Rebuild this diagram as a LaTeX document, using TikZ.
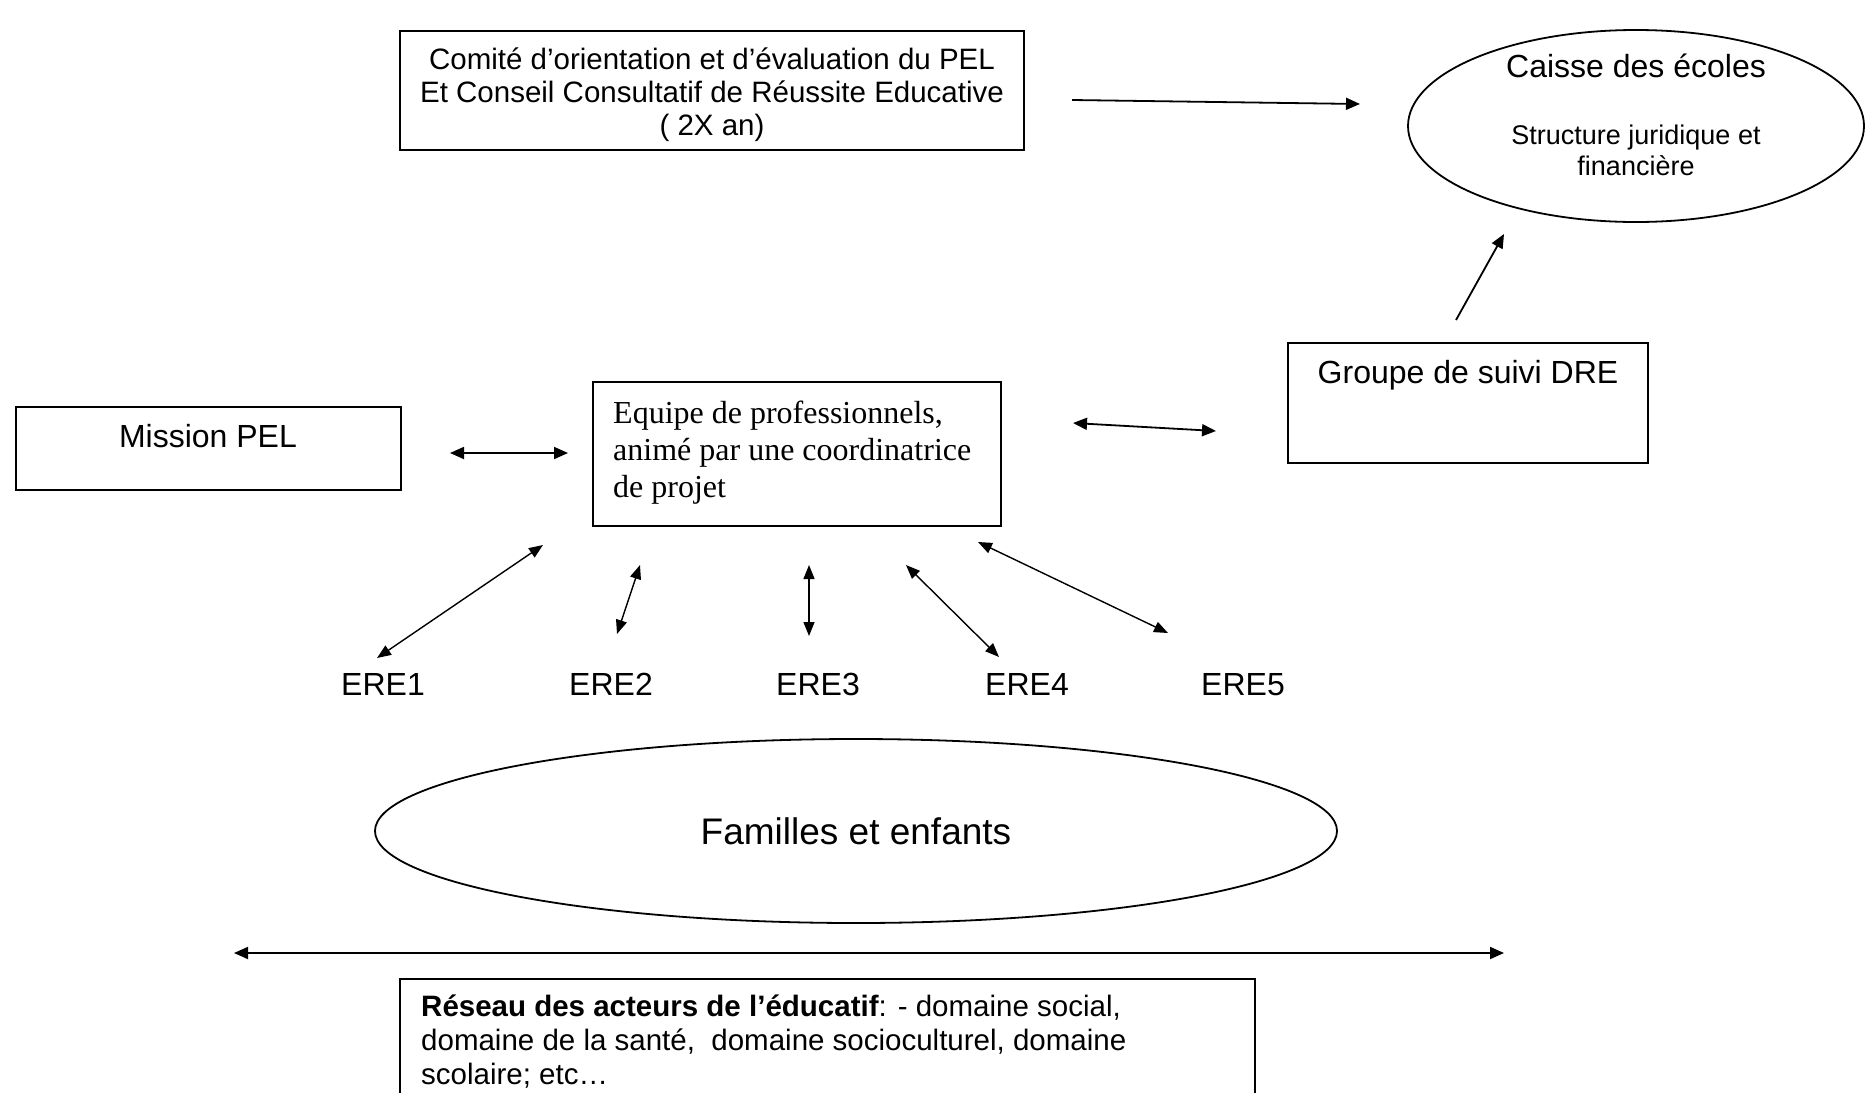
\documentclass[tikz,border=0pt]{standalone}
\usepackage{fontspec}
\setmainfont{Liberation Sans}
\newfontfamily\timesf{Liberation Serif}
\usetikzlibrary{arrows.meta,shapes.geometric}
\begin{document}
\begin{tikzpicture}[x=1pt,y=-1pt,
  framebox/.style={draw,line width=1.8pt,inner sep=0pt,rectangle},
  oval/.style={draw,line width=1.8pt,inner sep=0pt,ellipse},
  txt/.style={inner sep=0pt,align=center},
  arr/.style={line width=1.8pt,{Triangle[length=14pt,width=12pt]}-{Triangle[length=14pt,width=12pt]}},
  onearr/.style={line width=1.8pt,-{Triangle[length=14pt,width=12pt]}},
  thinarr/.style={line width=1.4pt,{Triangle[length=14pt,width=11pt]}-{Triangle[length=14pt,width=11pt]}}
]
\useasboundingbox[fill=white] (0,0) rectangle (1870,1092);

% boxes
\node[framebox,minimum width=624pt,minimum height=119pt] (comite) at (712,90.5) {};
\node[txt,font=\fontsize{29.5}{33}\selectfont] (comitet) at (712,95) {Comité d’orientation et d’évaluation du PEL\\ Et Conseil Consultatif de Réussite Educative\\ ( 2X an)};

\node[oval,minimum width=456pt,minimum height=192pt] (caisse) at (1636,126) {};
\node[txt,font=\fontsize{32}{36}\selectfont] (caisset) at (1636,66) {Caisse des écoles};
\node[txt,font=\fontsize{27}{31}\selectfont] (caisses) at (1636,150) {Structure juridique et\\ financière};

\node[framebox,minimum width=360pt,minimum height=120pt] (grp) at (1468,403) {};
\node[txt,font=\fontsize{32}{36}\selectfont] (grpt) at (1468,375) {Groupe de suivi DRE};

\node[framebox,minimum width=408pt,minimum height=144pt] (equipe) at (797,454) {};
\node[txt,anchor=west,align=left,font=\timesf\fontsize{32}{37}\selectfont] (equipet) at (613,453) {Equipe de professionnels,\\ animé par une coordinatrice\\ de projet};

\node[framebox,minimum width=385pt,minimum height=83pt] (mission) at (208.5,448.5) {};
\node[txt,font=\fontsize{32}{36}\selectfont] (missiont) at (208,436) {Mission PEL};

% ERE labels
\foreach \n/\x in {1/383,2/611,3/818,4/1027,5/1243}{
  \node[txt,font=\fontsize{32}{36}\selectfont,anchor=base] (ere\n) at (\x,695) {ERE\n};
}

\node[oval,minimum width=962pt,minimum height=184pt] (familles) at (856,831) {};
\node[txt,font=\fontsize{37}{42}\selectfont] (famillest) at (856,831) {Familles et enfants};

\node[framebox,minimum width=855pt,minimum height=200pt,anchor=north] (reseau) at (827.5,978) {};
\node[txt,anchor=north west,align=left,font=\fontsize{29.5}{34}\selectfont] (reseaut) at (421,995) {\textbf{Réseau des acteurs de l’éducatif}: - domaine social,\\ domaine de la santé,\ \ domaine socioculturel, domaine\\ scolaire; etc…};

% connector ends
\coordinate (c1a) at (1072,100); \coordinate (c1b) at (1360,104);
\coordinate (c2a) at (1456,320); \coordinate (c2b) at (1504,234);
\coordinate (c3a) at (450,453);  \coordinate (c3b) at (568,453);
\coordinate (c4a) at (1073,423); \coordinate (c4b) at (1216,431);
\coordinate (e1a) at (543,545);  \coordinate (e1b) at (377,658);
\coordinate (e2a) at (640,565);  \coordinate (e2b) at (617,634);
\coordinate (e3a) at (809,565);  \coordinate (e3b) at (809,636);
\coordinate (e4a) at (906,565);  \coordinate (e4b) at (999,657);
\coordinate (e5a) at (978,542);  \coordinate (e5b) at (1168,633);
\coordinate (hza) at (234,953);  \coordinate (hzb) at (1504,953);

\draw[onearr] (c1a) -- (c1b);
\draw[onearr] (c2a) -- (c2b);
\draw[arr] (c3a) -- (c3b);
\draw[arr] (c4a) -- (c4b);
\draw[thinarr] (e1a) -- (e1b);
\draw[thinarr] (e2a) -- (e2b);
\draw[thinarr] (e3a) -- (e3b);
\draw[thinarr] (e4a) -- (e4b);
\draw[thinarr] (e5a) -- (e5b);
\draw[arr] (hza) -- (hzb);
\end{tikzpicture}
\end{document}
